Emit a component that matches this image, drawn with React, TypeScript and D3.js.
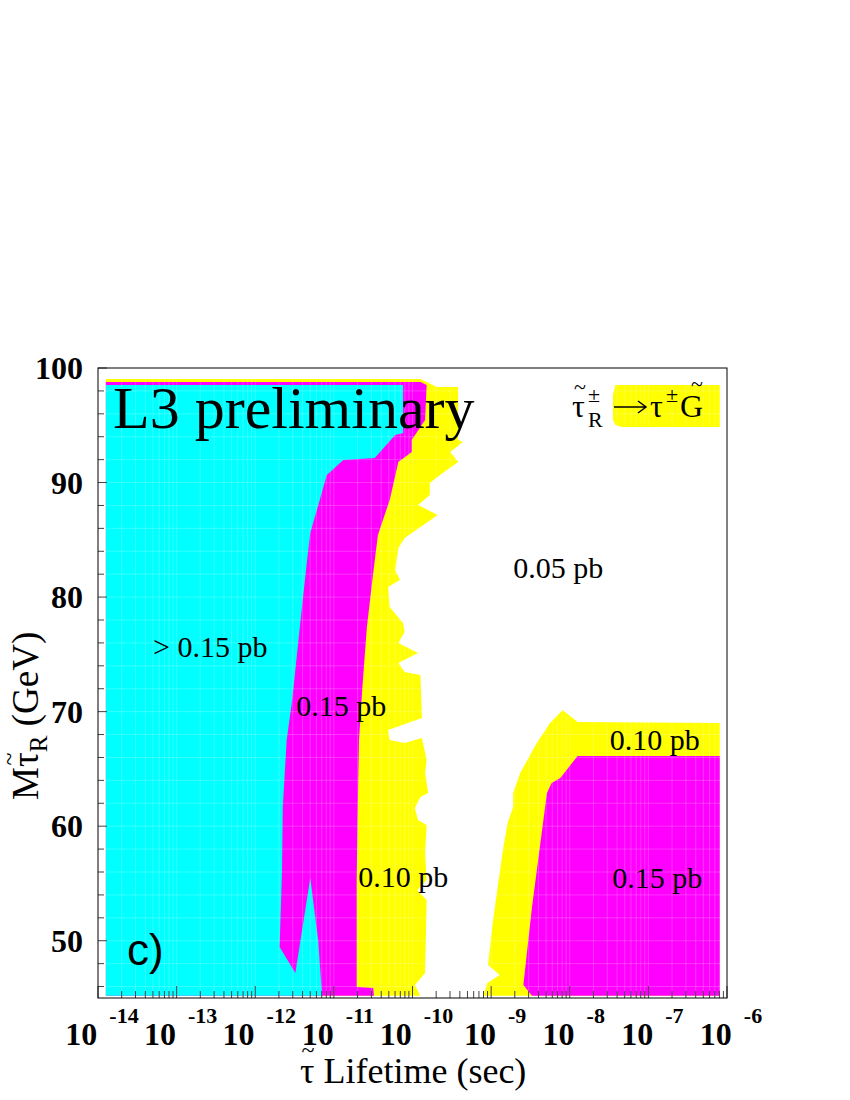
import * as d3 from 'd3';

// exclusion contours, points are [log10(lifetime / sec), stau mass in GeV]
const band010Left: [number, number][] = [
  [-13.9, 45.2], [-13.9, 99.04], [-9.9, 99.04], [-9.69, 98.34], [-9.42, 98.34],
  [-9.42, 93.71], [-9.36, 93.54], [-9.52, 92.67], [-9.42, 91.79], [-9.65, 90.66],
  [-9.78, 89.96], [-9.78, 88.91], [-9.93, 88.04], [-9.68, 87.17], [-10.1, 85.16],
  [-10.18, 84.29], [-10.22, 82.37], [-10.16, 81.49], [-10.31, 80.88], [-10.29, 79.13],
  [-10.12, 77.74], [-10.1, 76.95], [-10.18, 75.99], [-9.93, 75.12], [-10.18, 74.25],
  [-10.1, 73.46], [-9.9, 73.2], [-9.88, 69.44], [-10.31, 68.4], [-10.29, 67.52],
  [-10.1, 67.26], [-9.88, 67.7], [-9.82, 65.78], [-9.84, 64.64], [-9.8, 62.9],
  [-9.9, 62.55], [-9.97, 61.59], [-9.93, 60.54], [-9.82, 60.1], [-9.84, 57.66],
  [-9.82, 55.3], [-9.94, 54.43], [-9.82, 53.56], [-9.84, 47.18], [-9.97, 46.14],
  [-9.9, 45.2],
];

const band010Right: [number, number][] = [
  [-9.1, 45.2], [-9.05, 46.31], [-8.89, 47.01], [-9.04, 47.88], [-8.98, 51.55],
  [-8.85, 57.92], [-8.79, 60.28], [-8.72, 61.68], [-8.72, 62.9], [-8.63, 64.64],
  [-8.42, 67.26], [-8.25, 69.01], [-8.09, 70.14], [-7.9, 69.1], [-6.09, 69.01],
  [-6.09, 45.2],
];

const band010Corner: [number, number][] = [
  [-7.42, 98.52], [-6.09, 98.52], [-6.09, 94.85], [-7.34, 94.85], [-7.42, 95.02],
  [-7.45, 95.46], [-7.45, 97.64],
];

const band015Left: [number, number][] = [
  [-13.9, 45.2], [-13.9, 98.78], [-9.9, 98.78], [-9.82, 98.52], [-9.84, 95.46],
  [-10.01, 93.71], [-10.01, 92.67], [-10.18, 91.79], [-10.29, 88.48], [-10.44, 85.42],
  [-10.5, 82.1], [-10.58, 77.39], [-10.64, 71.89], [-10.68, 67.52], [-10.69, 64.03],
  [-10.71, 55.3], [-10.71, 45.96], [-10.5, 45.87], [-10.49, 45.2],
];

const band015Right: [number, number][] = [
  [-8.48, 45.2], [-8.59, 46.14], [-8.48, 52.94], [-8.29, 62.9], [-8.23, 63.77],
  [-8.12, 64.21], [-8.02, 65.08], [-7.9, 66.13], [-6.09, 66.13], [-6.09, 45.2],
];

const bandAbove015: [number, number][] = [
  [-13.9, 45.2], [-13.9, 98.52], [-10.12, 98.52], [-10.12, 94.33], [-10.22, 94.15],
  [-10.48, 92.14], [-10.88, 91.97], [-11.09, 90.66], [-11.18, 88.48], [-11.3, 85.6],
  [-11.34, 83.24], [-11.41, 78.87], [-11.53, 71.02], [-11.6, 67.52], [-11.65, 61.68],
  [-11.66, 55.91], [-11.69, 49.45], [-11.49, 47.18], [-11.3, 55.48], [-11.2, 50.06],
  [-11.15, 45.2],
];

const regionLabels = [
  { text: '0.05 pb', logTau: -8.72, mass: 81.67 },
  { text: '> 0.15 pb', logTau: -13.3, mass: 74.77 },
  { text: '0.15 pb', logTau: -11.48, mass: 69.62 },
  { text: '0.10 pb', logTau: -7.49, mass: 66.65 },
  { text: '0.10 pb', logTau: -10.69, mass: 54.69 },
  { text: '0.15 pb', logTau: -7.46, mass: 54.6 },
];

const xTickExponents = [-14, -13, -12, -11, -10, -9, -8, -7, -6];
const yTickLabels = [50, 60, 70, 80, 90, 100];

const W = 850;
const H = 1100;
const frame = { left: 98, top: 368, right: 727, bottom: 998 };
const serif = '"Liberation Serif", "Times New Roman", serif';
const sans = '"Liberation Sans", Arial, sans-serif';

export default function App() {
  const x = d3.scaleLog().domain([1e-14, 1e-6]).range([frame.left, frame.right]);
  const y = d3.scaleLinear().domain([45, 100]).range([frame.bottom, frame.top]);

  const line = d3.line<[number, number]>()
    .x(d => x(10 ** d[0]))
    .y(d => y(d[1]));
  const area = (pts: [number, number][]) => line(pts) + 'Z';

  // log ticks: decades are major, 2..9 are minor
  const xMinor: number[] = [];
  for (let e = -14; e < -6; e++) {
    for (let k = 2; k <= 9; k++) xMinor.push(k * 10 ** e);
  }
  const xMajor = xTickExponents.map(e => 10 ** e);
  const yTicks = d3.range(46, 100.1, 2);

  return (
    <svg width={W} height={H} style={{ position: 'absolute', left: 0, top: 0, background: '#fff' }}>
      <rect x={0} y={0} width={W} height={H} fill="#fff" />

      <path d={area(band010Left)} fill="#ffff00" />
      <path d={area(band010Right)} fill="#ffff00" />
      <path d={area(band010Corner)} fill="#ffff00" />
      <path d={area(band015Left)} fill="#ff00ff" />
      <path d={area(band015Right)} fill="#ff00ff" />
      <path d={area(bandAbove015)} fill="#00ffff" />

      {/* faint cell grid seen on the coloured areas */}
      <g stroke="#fff" strokeOpacity={0.2} strokeWidth={1}>
        {xMinor.concat(xMajor).map((v, i) => (
          <line key={'gx' + i} x1={x(v)} x2={x(v)} y1={frame.top} y2={frame.bottom} />
        ))}
        {yTicks.map(v => (
          <line key={'gy' + v} x1={frame.left} x2={frame.right} y1={y(v)} y2={y(v)} />
        ))}
      </g>

      {regionLabels.map((d, i) => (
        <text key={'rl' + i} x={x(10 ** d.logTau)} y={y(d.mass)} fontFamily={serif} fontSize={30}>
          {d.text}
        </text>
      ))}

      <text x={113} y={428} fontFamily={serif} fontSize={60}>L3 preliminary</text>
      <text x={127} y={965} fontFamily={sans} fontSize={44}>c)</text>

      {/* decay label */}
      <g fontFamily={serif}>
        <text x={572} y={417} fontSize={32}>τ</text>
        <text x={580} y={394} fontSize={22} textAnchor="middle">~</text>
        <text x={588} y={402} fontSize={22}>±</text>
        <text x={588} y={427} fontSize={22}>R</text>
        <path d="M614,407 H646 M638,401 L646,407 L638,413" fill="none" stroke="#000" strokeWidth={1.5} />
        <text x={650} y={417} fontSize={32}>τ</text>
        <text x={666} y={402} fontSize={22}>±</text>
        <text x={680} y={417} fontSize={32}>G</text>
        <text x={697} y={391} fontSize={22} textAnchor="middle">~</text>
      </g>

      {/* ticks */}
      <g stroke="#444" strokeWidth={1}>
        {xMinor.map((v, i) => (
          <line key={'tx' + i} x1={x(v)} x2={x(v)} y1={frame.bottom} y2={frame.bottom - 7} />
        ))}
        {xMajor.map((v, i) => (
          <line key={'tX' + i} x1={x(v)} x2={x(v)} y1={frame.bottom} y2={frame.bottom - 12} />
        ))}
        {yTicks.map(v => (
          <line key={'ty' + v} x1={frame.left} x2={frame.left + (v % 10 === 0 ? 9 : 6)} y1={y(v)} y2={y(v)} />
        ))}
      </g>

      <rect x={frame.left} y={frame.top} width={frame.right - frame.left} height={frame.bottom - frame.top}
        fill="none" stroke="#000" strokeWidth={1} />

      {/* axis labels */}
      {xTickExponents.map(e => (
        <text key={'lx' + e} x={x(10 ** e) + 4} y={1045} textAnchor="middle"
          fontFamily={serif} fontWeight="bold" fontSize={32}>
          10<tspan dx={12} dy={-22} fontSize={22}>{'-' + Math.abs(e)}</tspan>
        </text>
      ))}
      {yTickLabels.map(v => (
        <text key={'ly' + v} x={83} y={y(v) + 11} textAnchor="end"
          fontFamily={serif} fontWeight="bold" fontSize={32}>
          {v}
        </text>
      ))}

      <g fontFamily={serif} fontSize={36}>
        <text x={300} y={1083}>τ<tspan> Lifetime (sec)</tspan></text>
        <text x={308} y={1058} fontSize={24} textAnchor="middle">~</text>
      </g>

      <g transform="translate(38,800) rotate(-90)" fontFamily={serif} fontSize={37}>
        <text x={0} y={0}>
          M<tspan>τ</tspan><tspan dy={9} fontSize={25}>R</tspan><tspan dy={-9}> (GeV)</tspan>
        </text>
        <text x={41} y={-21} fontSize={24} textAnchor="middle">~</text>
      </g>
    </svg>
  );
}
